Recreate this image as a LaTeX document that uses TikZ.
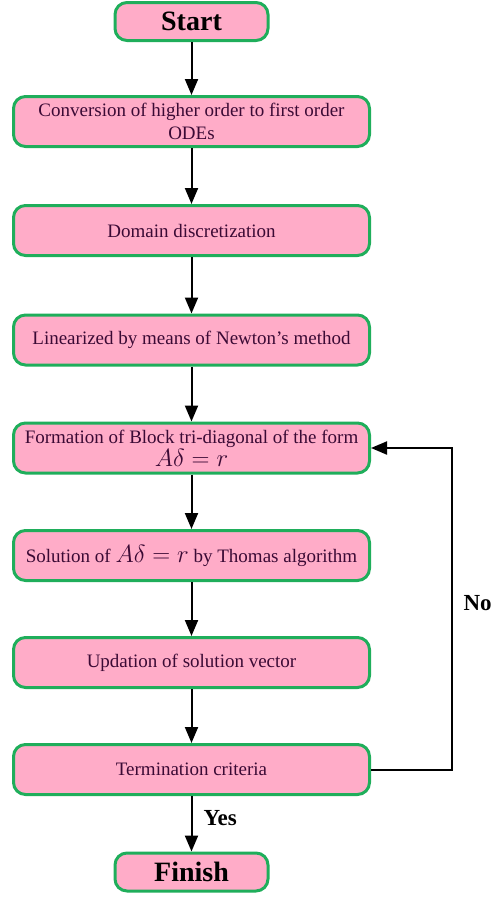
\documentclass[tikz,border=0pt]{standalone}
\usepackage{amsmath,amssymb}
\usepackage{fontspec}
\setmainfont{Liberation Serif}
\usepackage{xcolor}
\usepackage{tikz}
\usetikzlibrary{arrows.meta}
\definecolor{boxfill}{HTML}{FFACC8}
\definecolor{boxline}{HTML}{1FAE5B}
\definecolor{boxtext}{HTML}{3B0A35}
\definecolor{arrowc}{HTML}{000000}
\tikzset{
  stepbox/.style={draw=boxline, line width=3pt, fill=boxfill, rounded corners=12pt,
    minimum width=356pt, minimum height=50pt, inner sep=0pt, align=center,
    text=boxtext, font=\fontsize{19}{23}\selectfont},
  endbox/.style={draw=boxline, line width=3pt, fill=boxfill, rounded corners=12pt,
    minimum width=153pt, minimum height=38pt, inner sep=0pt,
    text=black, font=\fontsize{28}{30}\selectfont\bfseries},
  arr/.style={draw=arrowc, line width=2pt, -{Triangle[length=16pt,width=13pt]}},
  lab/.style={text=black, font=\fontsize{23}{25}\selectfont\bfseries}
}
\newcommand{\adr}{{\fontsize{23}{23}\selectfont$A\delta = r$}}

\begin{document}
\begin{tikzpicture}[x=1pt, y=-1pt]
  \useasboundingbox (0,0) rectangle (493,897);

  % Steps of the method
  \node[endbox] (start) at (191.5,21.5) {Start};
  \node[stepbox] (conv) at (191.5,121.5) {Conversion of higher order to first order\\ODEs};
  \node[stepbox] (domain) at (191.5,230.5) {Domain discretization};
  \node[stepbox] (lin) at (191.5,340) {Linearized by means of Newton's method};
  \node[stepbox] (form) at (191.5,448) {Formation of Block tri-diagonal of the form\\\adr};
  \node[stepbox] (sol) at (191.5,555.5) {Solution of \adr{} by Thomas algorithm};
  \node[stepbox] (upd) at (191.5,662.5) {Updation of solution vector};
  \node[stepbox] (term) at (191.5,769.5) {Termination criteria};
  \node[endbox] (finish) at (191.5,872) {Finish};

  % Arrows down the chain
  \draw[arr] (start) -- (conv);
  \draw[arr] (conv) -- (domain);
  \draw[arr] (domain) -- (lin);
  \draw[arr] (lin) -- (form);
  \draw[arr] (form) -- (sol);
  \draw[arr] (sol) -- (upd);
  \draw[arr] (upd) -- (term);
  \draw[arr] (term) -- (finish);
  \node[lab, anchor=west] (yes) at (200,818) {Yes};

  % Loop back when not converged
  \coordinate (back) at (452,769.5);
  \draw[arr] (term.east) -- (back) |- (form.east);
  \node[lab, anchor=west] (no) at (460,603) {No};
\end{tikzpicture}
\end{document}
